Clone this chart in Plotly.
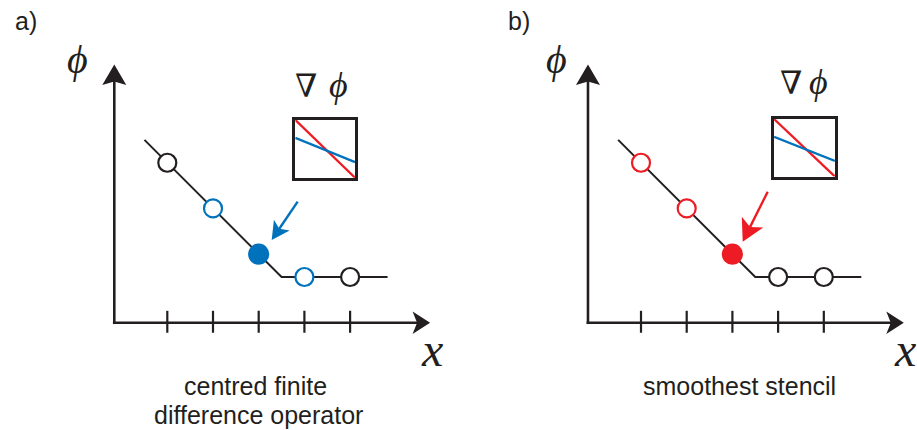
import math
import plotly.graph_objects as go

W, H = 917, 430

# ---- data -------------------------------------------------------------
node_x = [1, 2, 3, 4, 5]
node_phi = [3.5, 2.5, 1.5, 1.0, 1.0]
profile_x = [0.5, 3.5, 5.82]
profile_phi = [4.0, 1.0, 1.0]
tick_x = [1, 2, 3, 4, 5]

grad_x = [0, 1]
grad_exact = [1.0, 0.0]      # red line in inset
grad_approx = [0.69, 0.27]   # blue line in inset

BLACK = '#231F20'
BLUE = '#0072BC'
RED = '#ED1C24'

panel_a_colors = [BLACK, BLUE, BLUE, BLUE, BLACK]
panel_b_colors = [RED, RED, RED, BLACK, BLACK]
node_filled = [False, False, True, False, False]

caption_a = ["centred finite", "difference operator"]
caption_b = ["smoothest stencil"]
panel_labels = ["a)", "b)"]

# ---- layout constants ---------------------------------------------------
PX_PER_UNIT = 45.7
AX_ORIGIN = -0.16
X_TIP = 6.75
Y_TIP = 5.65
TICK_LO, TICK_HI = -0.22, 0.26

fig = go.Figure()
shapes = []


def head_path(dx, dy, L, w, n):
    px, py = -dy, dx
    pts = [(0.0, 0.0),
           (-L * dx + w * px, -L * dy + w * py),
           (-(L - n) * dx, -(L - n) * dy),
           (-L * dx - w * px, -L * dy - w * py)]
    return 'M ' + ' L '.join(f'{x:.2f},{y:.2f}' for x, y in pts) + ' Z'


def arrow(xa, tail, tip, color, lw, L, w, n):
    dxu, dyu = tip[0] - tail[0], tip[1] - tail[1]
    d = math.hypot(dxu, dyu)
    ux, uy = dxu / d, dyu / d
    back = 0.5 * L / PX_PER_UNIT
    shapes.append(dict(type='line', xref=xa, yref='y', layer='above',
                       x0=tail[0], y0=tail[1],
                       x1=tip[0] - ux * back, y1=tip[1] - uy * back,
                       line=dict(color=color, width=lw)))
    shapes.append(dict(type='path', xref=xa, yref='y', layer='above',
                       xsizemode='pixel', ysizemode='pixel',
                       xanchor=tip[0], yanchor=tip[1],
                       path=head_path(ux, uy, L, w, n),
                       fillcolor=color, line=dict(width=0)))


def add_panel(xa, colors, arrow_tail, arrow_tip, arrow_color, head):
    # profile line
    fig.add_trace(go.Scatter(x=profile_x, y=profile_phi, mode='lines',
                             line=dict(color=BLACK, width=2),
                             xaxis=xa, yaxis='y', showlegend=False,
                             hoverinfo='skip'))
    # ticks
    tx, ty = [], []
    for t in tick_x:
        tx += [t, t, None]
        ty += [TICK_LO, TICK_HI, None]
    fig.add_trace(go.Scatter(x=tx, y=ty, mode='lines',
                             line=dict(color=BLACK, width=2.2),
                             xaxis=xa, yaxis='y', showlegend=False,
                             hoverinfo='skip'))
    # nodes
    fills = [c if f else 'white' for c, f in zip(colors, node_filled)]
    sizes = [19 if f else 18 for f in node_filled]
    fig.add_trace(go.Scatter(x=node_x, y=node_phi, mode='markers',
                             marker=dict(symbol='circle', size=sizes, color=fills,
                                         opacity=1,
                                         line=dict(color=colors, width=2.2)),
                             xaxis=xa, yaxis='y', showlegend=False,
                             hoverinfo='skip'))
    # axes with arrow heads
    arrow(xa, (AX_ORIGIN, -0.03), (AX_ORIGIN, Y_TIP), BLACK, 2.6, 20.5, 12, 3.5)
    arrow(xa, (AX_ORIGIN - 0.03, 0), (X_TIP, 0), BLACK, 2.6, 17.5, 11.2, 4.5)
    # pointer arrow
    arrow(xa, arrow_tail, arrow_tip, arrow_color, 2.4, *head)


add_panel('x', panel_a_colors, (3.853, 2.648), (3.284, 1.81), BLUE, (18, 9.5, 4.5))
add_panel('x2', panel_b_colors, (3.772, 2.866), (3.225, 1.772), RED, (22, 12, 5.5))

# insets
for xa, ya in [('x3', 'y3'), ('x4', 'y4')]:
    fig.add_trace(go.Scatter(x=grad_x, y=grad_exact, mode='lines',
                             line=dict(color=RED, width=2.3),
                             xaxis=xa, yaxis=ya, showlegend=False, hoverinfo='skip'))
    fig.add_trace(go.Scatter(x=grad_x, y=grad_approx, mode='lines',
                             line=dict(color=BLUE, width=2.3),
                             xaxis=xa, yaxis=ya, showlegend=False, hoverinfo='skip'))

hidden = dict(visible=False, fixedrange=True)
inset = dict(range=[0, 1], showline=True, mirror=True, linecolor=BLACK, linewidth=2.5,
             showgrid=False, zeroline=False, showticklabels=False, ticks='',
             fixedrange=True)

fig.update_layout(
    width=W, height=H,
    margin=dict(l=0, r=0, t=0, b=0),
    paper_bgcolor='white', plot_bgcolor='rgba(0,0,0,0)',
    showlegend=False,
    shapes=shapes,
    xaxis=dict(domain=[0, 0.5], range=[-2.661, 7.372], anchor='y', **hidden),
    xaxis2=dict(domain=[0.5, 1], range=[-2.993, 7.039], anchor='y', **hidden),
    yaxis=dict(domain=[0, 1], range=[-2.348, 7.061], anchor='x', **hidden),
    xaxis3=dict(domain=[0.3220, 0.3872], anchor='y3', **inset),
    yaxis3=dict(domain=[0.5866, 0.7211], anchor='x3', **inset),
    xaxis4=dict(domain=[0.8441, 0.9105], anchor='y4', **inset),
    yaxis4=dict(domain=[0.5894, 0.7231], anchor='x4', **inset),
)

SANS = 'Liberation Sans, Arial, sans-serif'
SERIF = 'Liberation Serif, DejaVu Serif, serif'


def txt(px, py, text, size, family, color=BLACK):
    fig.add_annotation(x=px / W, y=1 - py / H, xref='paper', yref='paper',
                       text=text, showarrow=False, xanchor='center', yanchor='middle',
                       font=dict(family=family, size=size, color=color))


# panel labels
txt(25.7, 20.7, panel_labels[0], 25, SANS)
txt(518.7, 20.7, panel_labels[1], 25, SANS)
# axis labels
for dx in (0, 478.5):
    txt(77.5 + dx, 59.5, '<i>ϕ</i>', 40, SERIF)
txt(431.5, 349.5, '<i>x</i>', 48, SERIF)
txt(905.2, 349.5, '<i>x</i>', 48, SERIF)
# gradient labels
txt(306, 86.3, '∇', 32, 'DejaVu Serif, serif')
txt(338.3, 85, '<i>ϕ</i>', 36, SERIF)
txt(790.5, 83, '∇', 32, 'DejaVu Serif, serif')
txt(818.3, 81.8, '<i>ϕ</i>', 36, SERIF)
# captions
txt(255, 385.7, caption_a[0], 25, SANS)
txt(258, 414.7, caption_a[1], 25, SANS)
txt(739.7, 385.7, caption_b[0], 25, SANS)

fig.write_html("out.html", config={'displayModeBar': False},
               post_script="document.body.style.margin='0';document.body.style.padding='0';")
